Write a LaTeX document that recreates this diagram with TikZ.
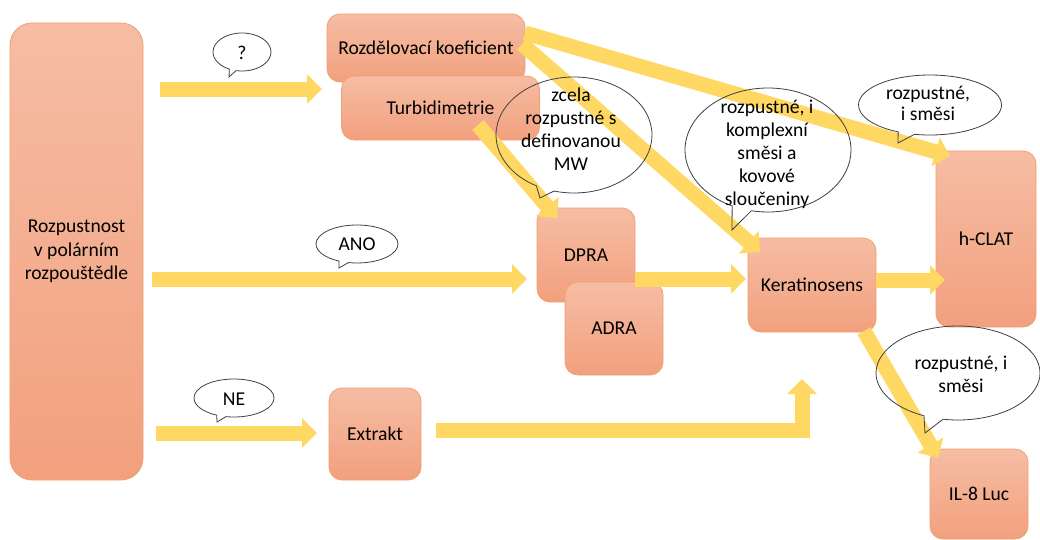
\documentclass[tikz,border=0pt]{standalone}
\usepackage{fontspec}
\setmainfont{Carlito}
\usetikzlibrary{arrows.meta,shapes.callouts,shapes.geometric}
\definecolor{boxtop}{HTML}{F6BDA4}
\definecolor{boxbot}{HTML}{F2A07E}
\definecolor{boxline}{HTML}{F0A070}
\definecolor{arry}{HTML}{FFD864}
\newcommand{\fs}{\fontsize{19.6}{23.5}\selectfont}
\begin{document}
\begin{tikzpicture}[x=1pt,y=-1pt,
  box/.style={draw=boxline, line width=0.8pt, top color=boxtop, bottom color=boxbot,
    rounded corners=13pt, align=center, font=\fs, text=black, inner sep=0pt},
  bigarrow/.style={draw=arry, line width=15pt, line join=miter, -{Triangle[width=29pt,length=15pt]}},
  bubble/.style={ellipse callout, draw=black!75, line width=0.8pt, inner sep=0pt, callout pointer arc=14},
  txt/.style={align=center, font=\fs, text=black, inner sep=0pt}]
\useasboundingbox[fill=white] (0,0) rectangle (1040,539);

% boxes
\node[box, rounded corners=22pt, minimum width=133pt, minimum height=457pt] (rp) at (76.5,251.5) {Rozpustnost\\v polárním\\rozpouštědle};
\node[box, minimum width=198pt, minimum height=68pt] (rk) at (426,48) {Rozdělovací koeficient};
\node[box, minimum width=198pt, minimum height=64pt] (tb) at (440.5,108) {Turbidimetrie};
\node[box, minimum width=98pt, minimum height=94pt] (dpra) at (586,255) {DPRA};
\node[box, minimum width=98pt, minimum height=93pt] (adra) at (614,328.5) {ADRA};
\node[box, minimum width=128pt, minimum height=94pt] (kr) at (812,285) {Keratinosens};
\node[box, minimum width=100pt, minimum height=176pt] (hc) at (986,239) {h-CLAT};
\node[box, minimum width=98pt, minimum height=90pt] (il) at (979,494) {IL-8 Luc};
\node[box, minimum width=92pt, minimum height=92pt] (ex) at (375,434) {Extrakt};

% arrow end points
\coordinate (qs) at (160,89);   \coordinate (qe) at (322,89);
\coordinate (as) at (152,279);  \coordinate (ae) at (527,279);
\coordinate (ns) at (156,433);  \coordinate (ne) at (317,433);
\coordinate (xs) at (436,430);  \coordinate (xe) at (802,379);
\coordinate (ds) at (635,279);  \coordinate (de) at (746,279);
\coordinate (ks) at (876,280);  \coordinate (ke) at (945,280);
\coordinate (r1s) at (525,33);  \coordinate (r1e) at (950,156);
\coordinate (r2s) at (522,44);  \coordinate (r2e) at (760,252);
\coordinate (ts) at (478,125);  \coordinate (te) at (557,218);
\coordinate (ls) at (864,331);  \coordinate (le) at (938,458);

% arrows
\draw[bigarrow] (qs) -- (qe);
\draw[bigarrow] (as) -- (ae);
\draw[bigarrow] (ns) -- (ne);
\draw[bigarrow] (xs) -| (xe);
\draw[bigarrow] (ds) -- (de);
\draw[bigarrow] (ks) -- (ke);
\draw[bigarrow] (r1s) -- (r1e);
\draw[bigarrow] (r2s) -- (r2e);
\draw[bigarrow] (ts) -- (te);
\draw[bigarrow] (ls) -- (le);

% callouts
\node[bubble, minimum width=58pt, minimum height=38pt, callout absolute pointer={(229,77)}] (cq) at (242,52) {};
\node[bubble, minimum width=82pt, minimum height=38pt, callout absolute pointer={(339,268)}] (cano) at (357,244) {};
\node[bubble, minimum width=80pt, minimum height=38pt, callout absolute pointer={(217,422)}] (cne) at (234,398) {};
\node[bubble, minimum width=156pt, minimum height=116pt, callout absolute pointer={(540,198)}] (czc) at (574,135) {};
\node[bubble, minimum width=166pt, minimum height=124pt, callout absolute pointer={(732,230)}] (ckp) at (768,150) {};
\node[bubble, minimum width=143pt, minimum height=60pt, callout absolute pointer={(898,143)}] (chc) at (930,105) {};
\node[bubble, minimum width=164pt, minimum height=94pt, callout absolute pointer={(925,433)}] (cil) at (958,373) {};

% callout texts
\node[txt] (tq) at (242,53) {?};
\node[txt] (tano) at (357,244) {ANO};
\node[txt] (tne) at (234,399) {NE};
\node[txt, font=\fontsize{19.6}{23}\selectfont] (tzc) at (571,129) {zcela\\rozpustné s\\definovanou\\MW};
\node[txt, font=\fontsize{19.6}{23}\selectfont] (tkp) at (767,154) {rozpustné, i\\komplexní\\směsi a\\kovové\\sloučeniny};
\node[txt, font=\fontsize{19.6}{21}\selectfont] (thc) at (928,103) {rozpustné,\\i směsi};
\node[txt, font=\fontsize{19.6}{23}\selectfont] (til) at (961,374) {rozpustné, i\\směsi};
\end{tikzpicture}
\end{document}
